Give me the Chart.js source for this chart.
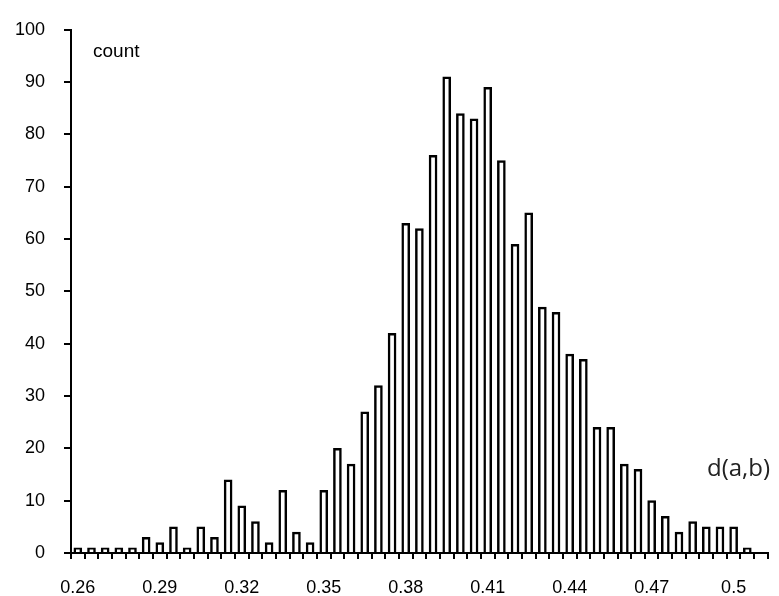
<!DOCTYPE html>
<html>
<head>
<meta charset="utf-8">
<script src="https://cdn.jsdelivr.net/npm/chart.js@4.4.1/dist/chart.umd.min.js"></script>
<style>
  html, body { margin: 0; padding: 0; background: #fff; }
  #wrap { width: 779px; height: 596px; }
</style>
</head>
<body>
<div id="wrap"><canvas id="hist"></canvas></div>
<script>
// bins of d(a,b), step 0.005 (last bin is empty)
var bins = [
  '0.26', '0.265', '0.27', '0.275', '0.28', '0.285', '0.29', '0.295', '0.3', '0.305',
  '0.31', '0.315', '0.32', '0.325', '0.33', '0.335', '0.34', '0.345', '0.35', '0.355',
  '0.36', '0.365', '0.37', '0.375', '0.38', '0.385', '0.39', '0.395', '0.4', '0.405',
  '0.41', '0.415', '0.42', '0.425', '0.43', '0.435', '0.44', '0.445', '0.45', '0.455',
  '0.46', '0.465', '0.47', '0.475', '0.48', '0.485', '0.49', '0.495', '0.5', '0.505',
  '0.51'
];

var counts = [
  1, 1, 1, 1, 1, 3, 2, 5, 1, 5,
  3, 14, 9, 6, 2, 12, 4, 2, 12, 20,
  17, 27, 32, 42, 63, 62, 76, 91, 84, 83,
  89, 75, 59, 65, 47, 46, 38, 37, 24, 24,
  17, 16, 10, 7, 4, 6, 5, 5, 5, 1,
  0
];

// only every 6th bin gets a label
var xTickLabels = ['0.26', '0.29', '0.32', '0.35', '0.38', '0.41', '0.44', '0.47', '0.5'];

var tickFont = { family: 'Liberation Sans', size: 18 };

var axisTitles = {
  id: 'axisTitles',
  afterDraw: function(chart) {
    var ctx = chart.ctx;
    ctx.save();
    ctx.fillStyle = '#000';
    ctx.textAlign = 'left';
    ctx.textBaseline = 'alphabetic';
    ctx.font = '19px "Liberation Sans"';
    ctx.fillText('count', 93, 57);
    ctx.fillStyle = '#222';
    ctx.font = '24px "Open Sans"';
    ctx.fillText('d(a,b)', 707, 476);
    ctx.restore();
  }
};

var config = {
  type: 'bar',
  data: {
    labels: bins,
    datasets: [{
      label: 'count',
      data: counts,
      backgroundColor: '#fff',
      borderColor: '#000',
      borderWidth: 2.5,
      borderSkipped: 'bottom',
      barThickness: 8
    }]
  },
  options: {
    responsive: false,
    animation: false,
    layout: { padding: { top: 22, right: 4, left: 0, bottom: 0 } },
    plugins: {
      legend: { display: false },
      tooltip: { enabled: false }
    },
    scales: {
      x: {
        offset: true,
        grid: {
          offset: true,
          drawOnChartArea: false,
          drawTicks: true,
          tickLength: 6,
          color: '#000',
          lineWidth: 2
        },
        border: { color: '#000', width: 2 },
        ticks: {
          autoSkip: false,
          maxRotation: 0,
          padding: 18,
          color: '#000',
          font: tickFont,
          callback: function(val, i) {
            return xTickLabels.indexOf(bins[i]) >= 0 ? bins[i] : '';
          }
        },
        afterFit: function(scale) { scale.height = 43; }
      },
      y: {
        min: 0,
        max: 100,
        grid: {
          drawOnChartArea: false,
          drawTicks: true,
          tickLength: 7,
          color: '#000',
          lineWidth: 2
        },
        border: { color: '#000', width: 2 },
        ticks: {
          stepSize: 10,
          padding: 19,
          color: '#000',
          font: tickFont
        },
        afterFit: function(scale) { scale.width = 71; }
      }
    }
  },
  plugins: [axisTitles]
};

window.onload = function() {
  var canvas = document.getElementById('hist');
  canvas.width = 779;
  canvas.height = 596;
  var ctx = canvas.getContext('2d');
  window.histChart = new Chart(ctx, config);
};
</script>
</body>
</html>
